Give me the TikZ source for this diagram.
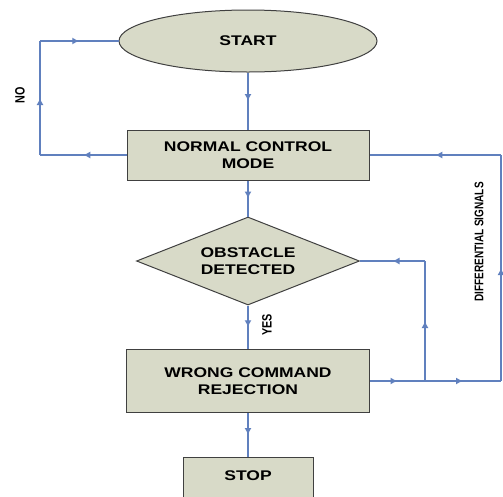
\documentclass[tikz,border=0pt]{standalone}
\usepackage{fontspec}
\newfontfamily\chartfont[FakeStretch=1.25]{Liberation Sans}
\newfontfamily\labelfont[FakeStretch=0.8]{Liberation Sans}
\usetikzlibrary{shapes.geometric, arrows.meta, decorations.markings}

\definecolor{boxfill}{RGB}{216,218,200}
\definecolor{flowblue}{RGB}{96,128,190}

\tikzset{
    block/.style={draw=black!75, fill=boxfill, line width=1pt, align=center, inner sep=0pt,
        font=\chartfont\bfseries\fontsize{14}{16.5}\selectfont},
    flow/.style={draw=flowblue, line width=1.3pt, postaction={decorate},
        decoration={markings, mark=at position 0.5 with {\arrow{Latex[length=7pt,width=7pt]}}}},
    sidelabel/.style={rotate=90, font=\labelfont\bfseries\fontsize{12.5}{14}\selectfont}
}

\begin{document}
\begin{tikzpicture}[x=1pt, y=-1pt]
        \clip (0,0) rectangle (503,496);

        \node[block, ellipse, minimum width=258, minimum height=62] (start) at (248,41) {START};
        \node[block, minimum width=242, minimum height=50] (normal) at (248,155) {NORMAL CONTROL\\MODE};
        \node[block, diamond, aspect=2.5, minimum width=223, minimum height=88] (obst) at (248,261) {OBSTACLE\\DETECTED};
        \node[block, minimum width=243, minimum height=63] (wrong) at (248,381) {WRONG COMMAND\\REJECTION};
        \node[block, anchor=north, minimum width=130, inner ysep=3pt, text height=20pt, text depth=40pt] (stop) at (248,457) {STOP};

        \coordinate (lefttop) at (40,41);
        \coordinate (leftbot) at (40,155);
        \coordinate (fork) at (425,381);
        \coordinate (forktop) at (425,261);
        \coordinate (edgebot) at (501,381);
        \coordinate (edgetop) at (501,155);

        \draw[flow] (start.south) -- (normal.north);
        \draw[flow] (normal.west) -- (leftbot);
        \draw[flow] (leftbot) -- (lefttop);
        \draw[flow] (lefttop) -- (start.west);
        \draw[flow] (normal.south) -- (obst.north);
        \draw[flow] (obst.south) -- (wrong.north);
        \draw[flow] (wrong.south) -- (stop.north);
        \draw[flow] (wrong.east) -- (fork);
        \draw[flow] (fork) -- (edgebot);
        \draw[flow] (fork) -- (forktop);
        \draw[flow] (forktop) -- (obst.east);
        \draw[flow] (edgebot) -- (edgetop);
        \draw[flow] (edgetop) -- (normal.east);

        \node[sidelabel, font=\labelfont\bfseries\fontsize{13.5}{15}\selectfont] (no) at (20,95) {NO};
        \node[sidelabel, font=\labelfont\bfseries\fontsize{13.5}{15}\selectfont] (yes) at (267,325) {YES};
        \node[sidelabel] (diff) at (479,242) {DIFFERENTIAL SIGNALS};
\end{tikzpicture}
\end{document}
